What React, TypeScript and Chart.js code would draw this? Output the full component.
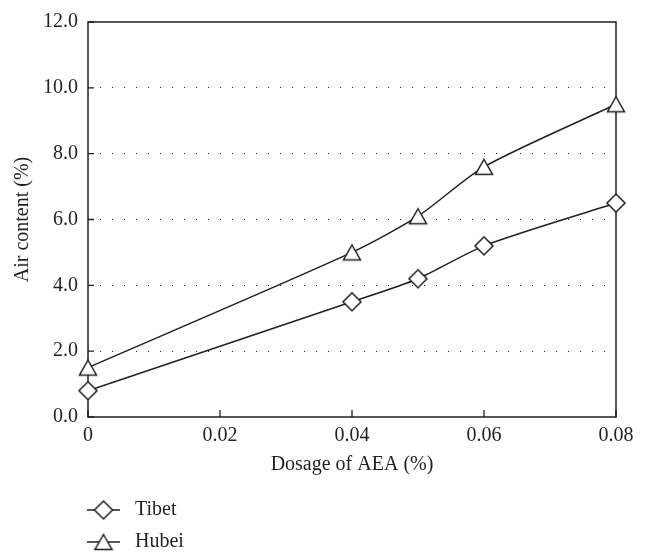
import { useEffect, useRef } from "react";
import { Chart, registerables } from "chart.js";

Chart.register(...registerables);

const dosage = [0, 0.04, 0.05, 0.06, 0.08];
const tibet = [0.8, 3.5, 4.2, 5.2, 6.5];
const hubei = [1.5, 5.0, 6.1, 7.6, 9.5];
const seriesNames = ["Tibet", "Hubei"];
const seriesShapes = ["diamond", "triangle"];
const xTicks = [0, 0.02, 0.04, 0.06, 0.08];
const yTicks = [0, 2, 4, 6, 8, 10, 12];
const xTitle = "Dosage of AEA (%)";
const yTitle = "Air content (%)";

const INK = "#231f20";
const FONT = "'Liberation Serif', 'Times New Roman', serif";
const FS = 20;

function makeMarker(shape: string): HTMLCanvasElement {
  const c = document.createElement("canvas");
  c.width = 24;
  c.height = 24;
  const ctx = c.getContext("2d")!;
  const cx = 12;
  const cy = 12;
  ctx.strokeStyle = INK;
  ctx.lineWidth = 1.5;
  ctx.lineJoin = "miter";
  ctx.beginPath();
  if (shape === "diamond") {
    const r = 9;
    ctx.moveTo(cx, cy - r);
    ctx.lineTo(cx + r, cy);
    ctx.lineTo(cx, cy + r);
    ctx.lineTo(cx - r, cy);
  } else {
    const hw = 8.5;
    const hh = 7.5;
    ctx.moveTo(cx, cy - hh);
    ctx.lineTo(cx + hw, cy + hh);
    ctx.lineTo(cx - hw, cy + hh);
  }
  ctx.closePath();
  ctx.fillStyle = "#fff";
  ctx.fill();
  ctx.stroke();
  return c;
}

export default function App() {
  const ref = useRef<HTMLCanvasElement>(null);
  useEffect(() => {
    document.body.style.margin = "0";
    const markers = seriesShapes.map(makeMarker);
    const series = [tibet, hubei];

    const framePlugin = {
      id: "frame",
      beforeDatasetsDraw(chart: any) {
        const { ctx, chartArea: a, scales } = chart;
        ctx.save();
        ctx.strokeStyle = INK;
        ctx.lineWidth = 1.5;
        ctx.strokeRect(a.left, a.top, a.right - a.left, a.bottom - a.top);
        ctx.lineWidth = 1.3;
        ctx.beginPath();
        xTicks.forEach((v) => {
          const px = scales.x.getPixelForValue(v);
          ctx.moveTo(px, a.bottom);
          ctx.lineTo(px, a.bottom - 7);
        });
        yTicks.forEach((v) => {
          const py = scales.y.getPixelForValue(v);
          ctx.moveTo(a.left, py);
          ctx.lineTo(a.left + 6, py);
        });
        ctx.stroke();
        ctx.restore();
      },
      afterDraw(chart: any) {
        const { ctx } = chart;
        ctx.save();
        ctx.strokeStyle = INK;
        ctx.lineWidth = 1.5;
        ctx.font = `${FS}px ${FONT}`;
        ctx.textBaseline = "middle";
        ctx.textAlign = "left";
        seriesNames.forEach((name, i) => {
          const y = 510 + i * 32;
          ctx.beginPath();
          ctx.moveTo(87, y);
          ctx.lineTo(120, y);
          ctx.stroke();
          const m = markers[i];
          ctx.drawImage(m, 103.5 - m.width / 2, y - m.height / 2);
          ctx.fillStyle = INK;
          ctx.fillText(name, 135, y);
        });
        ctx.restore();
      },
    };

    const chart = new Chart(ref.current!, {
      type: "line",
      data: {
        datasets: series.map((vals, i) => ({
          label: seriesNames[i],
          data: dosage.map((x, j) => ({ x, y: vals[j] })),
          borderColor: INK,
          borderWidth: 1.5,
          pointStyle: markers[i] as any,
          pointRadius: 10,
          pointBackgroundColor: "#fff",
          pointBorderColor: INK,
          tension: 0.25,
          clip: false as any,
        })),
      },
      options: {
        animation: false,
        responsive: false,
        devicePixelRatio: 1,
        layout: { padding: { left: 11, top: 16, right: 33, bottom: 78 } },
        plugins: { legend: { display: false }, tooltip: { enabled: false } },
        scales: {
          x: {
            type: "linear",
            min: 0,
            max: 0.08,
            afterBuildTicks: (s: any) => {
              s.ticks = xTicks.map((v) => ({ value: v }));
            },
            afterFit: (s: any) => {
              s.height = 60;
            },
            grid: { display: false, drawTicks: false },
            border: { display: false },
            ticks: {
              padding: 7,
              color: INK,
              font: { family: FONT, size: FS },
              maxRotation: 0,
              callback: (v: any) => (Number(v) === 0 ? "0" : Number(v).toFixed(2)),
            },
            title: {
              display: true,
              text: xTitle,
              color: INK,
              font: { family: FONT, size: FS },
              padding: 0,
            },
          },
          y: {
            type: "linear",
            min: 0,
            max: 12,
            afterBuildTicks: (s: any) => {
              s.ticks = yTicks.map((v) => ({ value: v }));
            },
            afterFit: (s: any) => {
              s.width = 77;
            },
            grid: {
              drawTicks: false,
              color: (c: any) =>
                c.tick && (c.tick.value === 0 || c.tick.value === 12) ? "rgba(0,0,0,0)" : INK,
              lineWidth: 1,
            },
            border: { display: false, dash: [1, 11] },
            ticks: {
              padding: 10,
              color: INK,
              font: { family: FONT, size: FS },
              callback: (v: any) => Number(v).toFixed(1),
            },
            title: {
              display: true,
              text: yTitle,
              color: INK,
              font: { family: FONT, size: FS },
              padding: 0,
            },
          },
        },
      },
      plugins: [framePlugin],
    });
    return () => chart.destroy();
  }, []);
  return <canvas ref={ref} width={649} height={555} style={{ display: "block" }} />;
}
